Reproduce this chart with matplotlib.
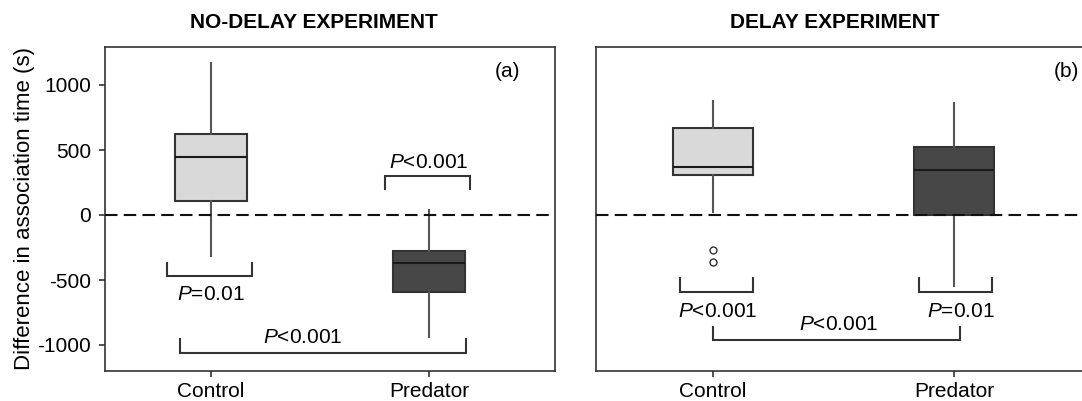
import matplotlib
matplotlib.use("Agg")
import matplotlib.pyplot as plt

plt.rcParams['font.family'] = ['Liberation Sans', 'DejaVu Sans']
plt.rcParams['mathtext.fontset'] = 'custom'
plt.rcParams['mathtext.rm'] = 'Liberation Sans'
plt.rcParams['mathtext.it'] = 'Liberation Sans:italic'
plt.rcParams['lines.scale_dashes'] = False
plt.rcParams['axes.unicode_minus'] = False

groups = ["Control", "Predator"]
box_colors = ["#d9d9d9", "#474747"]

# no-delay experiment: whisker low, Q1, median, Q3, whisker high
nodelay_stats = [
    [-315, 110, 449, 623, 1167],
    [-936, -590, -372, -277, 38],
]
nodelay_fliers = [[], []]

# delay experiment
delay_stats = [
    [21, 310, 367, 669, 877],
    [-544, 0, 346, 526, 859],
]
delay_fliers = [[-269, -359], []]

# brackets: (x left, x right, y of bar, y of tips), label, label x, label y
nodelay_brackets = [
    (0.80, 1.19, -469, -367, "$\\mathit{P}$=0.01", 1.0, -615),
    (1.80, 2.19, 302, 198, "$\\mathit{P}$<0.001", 2.0, 400),
    (0.86, 2.17, -1059, -956, "$\\mathit{P}$<0.001", 1.42, -946),
]
delay_brackets = [
    (0.863, 1.167, -595, -487, "$\\mathit{P}$<0.001", 1.02, -744),
    (1.855, 2.16, -595, -487, "$\\mathit{P}$=0.01", 2.03, -744),
    (1.0, 2.025, -962, -859, "$\\mathit{P}$<0.001", 1.52, -846),
]

W, H = 1082, 401
fig = plt.figure(figsize=(W / 100, H / 100), dpi=100)

def px_axes(x0, x1, y0, y1):
    return fig.add_axes([x0 / W, 1 - y1 / H, (x1 - x0) / W, (y1 - y0) / H])

ax1 = px_axes(105, 555, 47.3, 371)
ax2 = px_axes(596, 1085, 47.3, 371)

def draw_panel(ax, stats, fliers, brackets, xlim, tag, tag_x):
    bxp_stats = []
    for s, f, name in zip(stats, fliers, groups):
        bxp_stats.append({"whislo": s[0], "q1": s[1], "med": s[2], "q3": s[3],
                          "whishi": s[4], "fliers": f, "label": name})
    parts = ax.bxp(bxp_stats, positions=[1, 2], widths=0.33, patch_artist=True,
                   showcaps=False,
                   boxprops=dict(edgecolor="#333333", linewidth=1.5),
                   medianprops=dict(color="#1a1a1a", linewidth=1.5),
                   whiskerprops=dict(color="#555555", linewidth=1.5),
                   flierprops=dict(marker="o", markersize=5, markerfacecolor="none",
                                   markeredgecolor="#333333", markeredgewidth=1.0),
                   zorder=2)
    for patch, c in zip(parts["boxes"], box_colors):
        patch.set_facecolor(c)

    ax.axhline(0, color="#111111", linewidth=1.5, dashes=(9, 4.5), zorder=3)

    for xl, xr, yb, yt, label, lx, ly in brackets:
        ax.plot([xl, xl, xr, xr], [yt, yb, yb, yt], color="#333333",
                linewidth=1.5, solid_joinstyle="miter")
        ax.text(lx, ly, label, ha="center", va="center", fontsize=15)

    ax.set_xlim(*xlim)
    ax.set_ylim(-1200, 1290)
    ax.set_xticks([1, 2])
    ax.set_xticklabels(groups)
    ax.text(tag_x, 0.924, tag, transform=ax.transAxes,
            ha="right", va="center", fontsize=15)
    for sp in ax.spines.values():
        sp.set_color("#333333")
        sp.set_linewidth(1.2)
    ax.tick_params(axis="both", labelsize=15, length=4, width=1.2,
                   color="#333333", pad=6)
    ax.tick_params(axis="x", pad=4)

draw_panel(ax1, nodelay_stats, nodelay_fliers, nodelay_brackets, (0.514, 2.578), "(a)", 0.922)
draw_panel(ax2, delay_stats, delay_fliers, delay_brackets, (0.515, 2.544), "(b)", 0.988)

ax1.set_yticks([-1000, -500, 0, 500, 1000])
ax2.set_yticks([])

fig.text(25 / W, 1 - 208 / H, "Difference in association time (s)", rotation=90,
         ha="center", va="center", fontsize=16)
fig.text(314 / W, 1 - 23 / H, "NO-DELAY EXPERIMENT", ha="center", va="center",
         fontsize=15, fontweight="bold")
fig.text(835 / W, 1 - 23 / H, "DELAY EXPERIMENT", ha="center", va="center",
         fontsize=15, fontweight="bold")

fig.savefig("out.png", dpi=100)
